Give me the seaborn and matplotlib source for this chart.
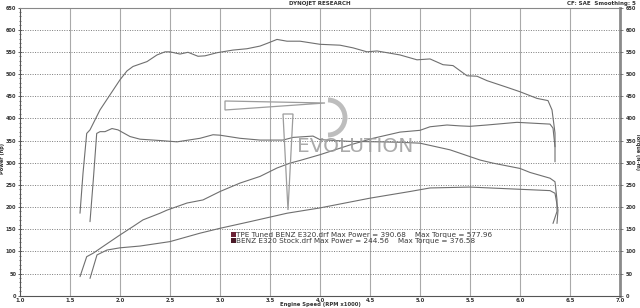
import numpy as np
import pandas as pd
import matplotlib
matplotlib.use("Agg")
import matplotlib.pyplot as plt
from matplotlib.patches import Polygon, Arc
from matplotlib.ticker import MultipleLocator
import seaborn as sns

# ---------------- data ----------------
tuned_torque_rpm = [1.60, 1.63, 1.667, 1.70, 1.80, 1.90, 2.00, 2.07, 2.13, 2.27, 2.37, 2.45,
                    2.50, 2.60, 2.68, 2.78, 2.85, 2.97, 3.13, 3.27, 3.40, 3.47, 3.57, 3.67,
                    3.80, 4.00, 4.20, 4.33, 4.47, 4.57, 4.80, 4.97, 5.10, 5.23, 5.33, 5.47,
                    5.57, 5.67, 5.87, 6.00, 6.17, 6.28, 6.32, 6.35, 6.35]
tuned_torque = [186, 276, 366, 374, 419, 453, 487, 507, 517, 528, 543, 550,
                550, 545, 549, 540, 541, 548, 554, 557, 563, 569, 578, 574,
                574, 567, 565, 559, 550, 552, 543, 532, 534, 521, 519, 496,
                495, 485, 470, 460, 445, 440, 419, 367, 302]

stock_torque_rpm = [1.70, 1.733, 1.767, 1.80, 1.85, 1.92, 1.98, 2.10, 2.20, 2.40, 2.57, 2.80,
                    2.93, 3.00, 3.20, 3.40, 3.63, 3.73, 3.93, 4.00, 4.30, 4.60, 4.80, 5.00,
                    5.30, 5.60, 5.73, 6.00, 6.10, 6.30, 6.35, 6.37, 6.37, 6.33]
stock_torque = [167, 261, 366, 370, 370, 377, 374, 359, 353, 350, 347, 355,
                363, 362, 355, 351, 351, 357, 360, 352, 348, 347, 346, 344,
                329, 306, 299, 287, 278, 265, 257, 216, 190, 163]

tuned_power_rpm = [1.60, 1.667, 1.733, 1.83, 2.00, 2.13, 2.23, 2.40, 2.47, 2.67, 2.83, 3.00,
                   3.20, 3.40, 3.57, 3.70, 3.80, 4.00, 4.30, 4.53, 4.80, 5.00, 5.10, 5.27,
                   5.40, 5.50, 5.67, 5.97, 6.30, 6.33, 6.35]
tuned_power = [43, 88, 96, 111, 137, 156, 171, 186, 193, 209, 216, 235,
               254, 269, 288, 299, 305, 318, 340, 355, 369, 373, 381, 385,
               383, 382, 385, 391, 387, 378, 336]

stock_power_rpm = [1.70, 1.77, 1.87, 2.00, 2.20, 2.50, 2.80, 3.00, 3.30, 3.67, 4.00, 4.50,
                   4.90, 5.10, 5.50, 5.80, 6.00, 6.30, 6.35, 6.38, 6.37]
stock_power = [39, 92, 103, 108, 112, 122, 141, 152, 167, 186, 198, 220,
               235, 243, 245, 242, 240, 237, 231, 193, 163]

x_ticks = [1.0, 1.5, 2.0, 2.5, 3.0, 3.5, 4.0, 4.5, 5.0, 5.5, 6.0, 6.5, 7.0]
y_ticks = list(range(0, 651, 50))
legend_lines = ["TPE Tuned BENZ E320.drf Max Power = 390.68    Max Torque = 577.96",
                "BENZ E320 Stock.drf Max Power = 244.56    Max Torque = 376.58"]
legend_colors = ["#6b2236", "#4a1a28"]

# ---------------- figure ----------------
sns.set_theme(style="white")
plt.rcParams['font.family'] = ['DejaVu Sans']

W, H = 640, 308
fig = plt.figure(figsize=(6.4, 3.08), dpi=100, facecolor="white")
x0, x1 = 20 / W, 620 / W
y0, y1 = 1 - 295.7 / H, 1 - 7.5 / H
ax = fig.add_axes([x0, y0, x1 - x0, y1 - y0])
ax.set_facecolor("white")

line_color = "#6f6f6f"
curves = [(tuned_torque_rpm, tuned_torque), (stock_torque_rpm, stock_torque),
          (tuned_power_rpm, tuned_power), (stock_power_rpm, stock_power)]
for xs, ys in curves:
    df = pd.DataFrame({"rpm": xs, "val": ys})
    sns.lineplot(data=df, x="rpm", y="val", sort=False, estimator=None, ax=ax,
                 color=line_color, linewidth=0.8)

ax.set_xlim(1.0, 7.0)
ax.set_ylim(0, 650)
ax.set_xticks(x_ticks)
ax.set_xticklabels([f"{t:.1f}" for t in x_ticks])
ax.set_yticks(y_ticks)
ax.set_yticklabels([str(t) for t in y_ticks])
ax.xaxis.set_minor_locator(MultipleLocator(0.1))
ax.yaxis.set_minor_locator(MultipleLocator(10))
ax.set_xlabel("")
ax.set_ylabel("")

# grid
for t in x_ticks[1:-1]:
    ax.axvline(t, color="#a9a9a9", linewidth=0.8, zorder=0)
for t in y_ticks[1:-1]:
    ax.axhline(t, color="#7a7a7a", linewidth=0.7, linestyle=(0, (1, 1.5)), zorder=0)

ax.tick_params(axis="x", which="major", direction="in", length=3, width=0.6,
               color="#444444", labelsize=3.8, pad=1.5, labelcolor="#333333")
ax.tick_params(axis="x", which="minor", direction="in", length=2, width=0.5, color="#444444")
ax.tick_params(axis="y", which="major", direction="inout", length=3, width=0.6,
               color="#444444", labelsize=3.6, pad=1.2, labelcolor="#333333")
ax.tick_params(axis="y", which="minor", direction="inout", length=2, width=0.5, color="#444444")
for lab in ax.get_xticklabels() + ax.get_yticklabels():
    lab.set_fontweight("bold")

for side in ["left", "bottom"]:
    ax.spines[side].set_color("#555555")
    ax.spines[side].set_linewidth(0.8)
ax.spines["top"].set_color("#888888")
ax.spines["top"].set_linewidth(0.8)
ax.spines["right"].set_color("#8a8a8a")
ax.spines["right"].set_linewidth(2.0)

ax2 = ax.twinx()
ax2.set_ylim(0, 650)
ax2.set_yticks(y_ticks)
ax2.set_yticklabels([str(t) for t in y_ticks])
ax2.tick_params(axis="y", which="major", direction="out", length=2, width=0.5,
                color="#555555", labelsize=3.6, pad=2.0, labelcolor="#333333")
for lab in ax2.get_yticklabels():
    lab.set_fontweight("bold")
for s in ax2.spines.values():
    s.set_visible(False)

# titles / labels
fig.text(320 / W, 1 - 3.5 / H, "DYNOJET RESEARCH", ha="center", va="center",
         fontsize=4, fontweight="bold", color="#333333")
fig.text(636 / W, 1 - 3.5 / H, "CF: SAE  Smoothing: 5", ha="right", va="center",
         fontsize=4, fontweight="bold", color="#333333")
fig.text(2.6 / W, 1 - 158 / H, "Power (hp)", ha="center", va="center", rotation=90,
         fontsize=3.6, fontweight="bold", color="#333333")
fig.text(637.4 / W, 1 - 152 / H, "Torque (N-m)", ha="center", va="center", rotation=-90,
         fontsize=3.6, fontweight="bold", color="#333333")
fig.text(320 / W, 1 - 304.5 / H, "Engine Speed (RPM x1000)", ha="center", va="center",
         fontsize=3.8, fontweight="bold", color="#333333")

# legend block
for i, (txt, col) in enumerate(zip(legend_lines, legend_colors)):
    yy = 1 - (234.5 + i * 6.2) / H
    fig.patches.append(plt.Rectangle((231 / W, yy - 2.4 / H), 4.6 / W, 4.8 / H,
                                     transform=fig.transFigure, facecolor=col,
                                     edgecolor="none"))
    fig.text(236.5 / W, yy, txt, ha="left", va="center", fontsize=5.2,
             color="#3a3a3a")

# watermark logo
def fp(px, py):
    return (px / W, 1 - py / H)

logo_col = "#9c9c9c"
fig.patches.append(Polygon([fp(225, 101), fp(225, 110), fp(325, 103)], closed=True,
                           transform=fig.transFigure, facecolor="none",
                           edgecolor=logo_col, linewidth=0.9))
fig.patches.append(Polygon([fp(283, 114), fp(293, 114), fp(288, 210)], closed=True,
                           transform=fig.transFigure, facecolor="none",
                           edgecolor=logo_col, linewidth=0.9))
cx, cy = fp(328, 117.5)
fig.patches.append(Arc((cx, cy), 34 / W, 35 / H, theta1=-90, theta2=90,
                       transform=fig.transFigure, color="#bdbdbd", linewidth=3.5))
fig.text(355 / W, 1 - 146.5 / H, "EVOLUTION", ha="center", va="center",
         fontsize=14.5, color=logo_col, family=["DejaVu Sans"],
         fontweight="normal", alpha=0.85)

fig.savefig("out.png", dpi=100, facecolor="white")
